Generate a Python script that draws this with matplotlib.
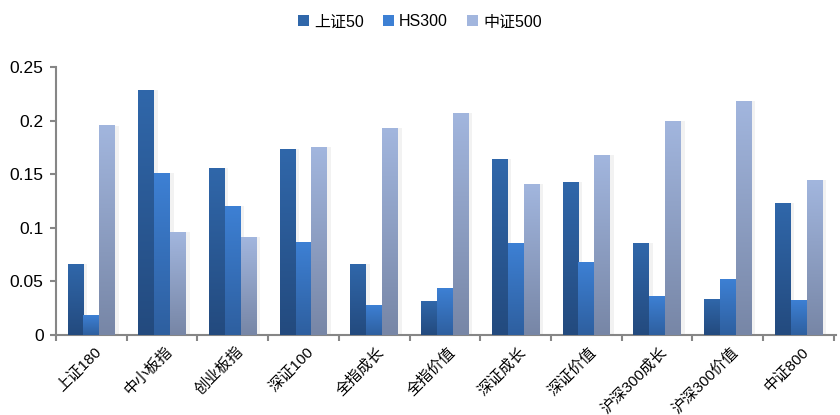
import matplotlib.pyplot as plt
import matplotlib.colors as mcolors
import numpy as np

plt.rcParams['font.family'] = ['Liberation Sans', 'Noto Sans CJK SC']

categories = ['上证180', '中小板指', '创业板指', '深证100', '全指成长', '全指价值',
              '深证成长', '深证价值', '沪深300成长', '沪深300价值', '中证800']
series_names = ['上证50', 'HS300', '中证500']
sz50 = [0.066, 0.2285, 0.1556, 0.1734, 0.066, 0.0313, 0.164, 0.1425, 0.0855, 0.0332, 0.1229]
hs300 = [0.018, 0.151, 0.120, 0.0864, 0.0276, 0.0435, 0.0855, 0.0677, 0.036, 0.0519, 0.0322]
zz500 = [0.195, 0.0958, 0.091, 0.175, 0.193, 0.207, 0.1406, 0.1678, 0.1995, 0.2182, 0.1444]

# top colour, bottom colour of each gradient
grads = [('#3067aa', '#234a7e'), ('#3d80d4', '#2e5f9f'), ('#a2b6de', '#7786a6')]

fig = plt.figure(figsize=(8.4, 4.15), dpi=100)
ax = fig.add_axes([0.0667, 0.1928, 0.9286, 0.6458])

x = np.arange(len(categories))
w = 0.225
for i, (vals, name) in enumerate(zip([sz50, hs300, zz500], series_names)):
    top, bot = grads[i]
    bars = ax.bar(x + (i - 1) * w, vals, w, color=top, label=name, zorder=2)
    cmap = mcolors.LinearSegmentedColormap.from_list('g%d' % i, [bot, top])
    grad = np.linspace(0, 1, 256).reshape(-1, 1)
    for b in bars:
        bx, by = b.get_x(), b.get_y()
        bw, bh = b.get_width(), b.get_height()
        # soft shadow on the right
        ax.bar(bx + bw, bh, 0.05, bottom=0, align='edge',
               color='#000000', alpha=0.05, zorder=1, linewidth=0)
        ax.imshow(grad, extent=[bx, bx + bw, by, by + bh], origin='lower',
                  cmap=cmap, aspect='auto', zorder=3)

ax.set_xlim(-0.5, len(categories) - 0.5 + 0.03)
ax.set_ylim(0, 0.25)
ax.set_yticks([0, 0.05, 0.1, 0.15, 0.2, 0.25])
ax.set_yticklabels(['0', '0.05', '0.1', '0.15', '0.2', '0.25'], fontsize=12.5)
ax.set_xticks(np.arange(len(categories) + 1) - 0.5)
ax.set_xticklabels([])
for xi, c in zip(x, categories):
    ax.text(xi + 0.04, -0.009, c, rotation=45, ha='right', va='top',
            rotation_mode='anchor', fontsize=11, transform=ax.transData)

for s in ['top', 'right']:
    ax.spines[s].set_visible(False)
for s in ['left', 'bottom']:
    ax.spines[s].set_color('#868686')
    ax.spines[s].set_linewidth(1.5)
ax.tick_params(axis='both', color='#868686', width=1.5, length=4)
ax.tick_params(axis='y', pad=5)

leg = fig.legend(loc='upper center', bbox_to_anchor=(0.5, 1.0), ncol=3,
                 frameon=False, fontsize=11.5, handlelength=0.7, handleheight=0.7,
                 handletextpad=0.3, columnspacing=1.2)

fig.savefig('out.png', dpi=100)
